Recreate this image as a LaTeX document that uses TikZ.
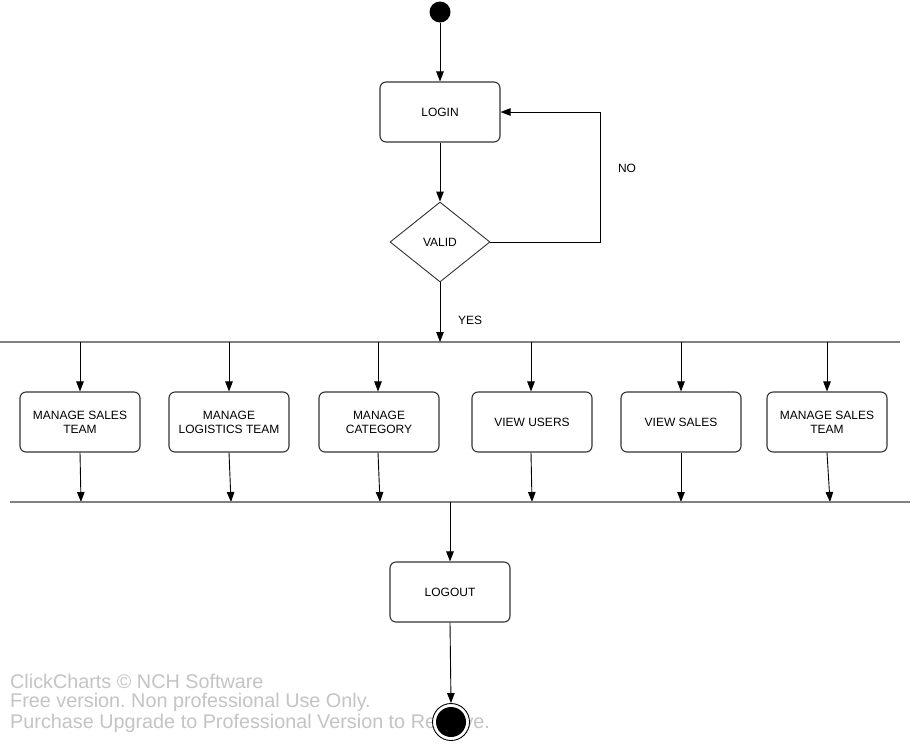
\documentclass[tikz,border=0pt]{standalone}
\usepackage{fontspec}
\setmainfont{Liberation Sans}
\frenchspacing
\usetikzlibrary{arrows.meta,shapes.geometric}
\definecolor{edge}{HTML}{333333}
\definecolor{barc}{HTML}{808080}
\definecolor{wm}{HTML}{C4C4C4}
\tikzset{
  act/.style={draw=edge,line width=1.1pt,rounded corners=6pt,minimum width=120pt,
    minimum height=60pt,align=center,font=\fontsize{12}{14}\selectfont,inner sep=0pt},
  choice/.style={draw=edge,line width=0.9pt,diamond,minimum width=100pt,minimum height=80pt,
    aspect=1.25,inner sep=0pt,font=\fontsize{12}{14}\selectfont},
  flow/.style={draw=black,line width=0.9pt,-{Triangle[length=10pt,width=7.5pt]}},
  bar/.style={draw=barc,line width=2pt},
  lbl/.style={font=\fontsize{12}{14}\selectfont},
  wmtext/.style={font=\fontsize{19.8}{22}\selectfont,text=wm,anchor=west,inner sep=0pt}
}
\begin{document}
\begin{tikzpicture}[x=1pt,y=-1pt]
\useasboundingbox (0,0) rectangle (912,745);
\fill[white] (0,0) rectangle (912,745);

% start state
\node[circle,fill=black,minimum size=21pt,inner sep=0pt] (start) at (440,12) {};

% login and validation
\node[act] (login) at (440,112) {LOGIN};
\node[choice] (valid) at (440,242) {VALID};
\coordinate (c1) at (600,242);
\coordinate (c2) at (600,112);

\draw[flow] (start) -- (login);
\draw[flow] (login) -- (valid);
\draw[flow] (valid.east) -- (c1) -- (c2) -- (login.east);
\node[lbl] (no) at (627,168) {NO};

% fork bar
\coordinate (fl) at (0,342);
\coordinate (fr) at (900,342);
\draw[bar] (fl) -- (fr);
\coordinate (fin) at (440,342);
\draw[flow] (valid.south) -- (fin);
\node[lbl] (yes) at (470,320) {YES};

% parallel activities
\node[act] (a1) at (80,422)  {MANAGE SALES\\TEAM};
\node[act] (a2) at (229,422) {MANAGE\\LOGISTICS TEAM};
\node[act] (a3) at (379,422) {MANAGE\\CATEGORY};
\node[act] (a4) at (532,422) {VIEW USERS};
\node[act] (a5) at (681,422) {VIEW SALES};
\node[act] (a6) at (827,422) {MANAGE SALES\\TEAM};

\coordinate (t1) at (80,342);  \coordinate (b1) at (81,502);
\coordinate (t2) at (229,342); \coordinate (b2) at (231,502);
\coordinate (t3) at (378,342); \coordinate (b3) at (380,502);
\coordinate (t4) at (531,342); \coordinate (b4) at (532,502);
\coordinate (t5) at (681,342); \coordinate (b5) at (681,502);
\coordinate (t6) at (827,342); \coordinate (b6) at (830,502);

\foreach \i in {1,...,6}{
  \draw[flow] (t\i) -- (t\i |- a\i.north);
  \draw[flow] (a\i.south -| t\i) -- (b\i);
}

% join bar
\coordinate (jl) at (10,502);
\coordinate (jr) at (910,502);
\draw[bar] (jl) -- (jr);

% logout
\node[act] (logout) at (450,592) {LOGOUT};
\coordinate (jout) at (450,502);
\draw[flow] (jout) -- (logout);

% watermark
\node[wmtext] (w1) at (10,681) {ClickCharts © NCH Software};
\node[wmtext] (w2) at (10,702) {Free version. Non professional Use Only.};
\node[wmtext] (w3) at (10,723) {Purchase Upgrade to Professional Version to Remove.};

% final state
\node[circle,draw=black,fill=white,line width=0.9pt,minimum size=37pt,inner sep=0pt] (stop) at (451,722) {};
\node[circle,fill=black,minimum size=30pt,inner sep=0pt] (stopin) at (451,722) {};
\draw[flow] (logout.south) -- (stop.north);
\end{tikzpicture}
\end{document}
